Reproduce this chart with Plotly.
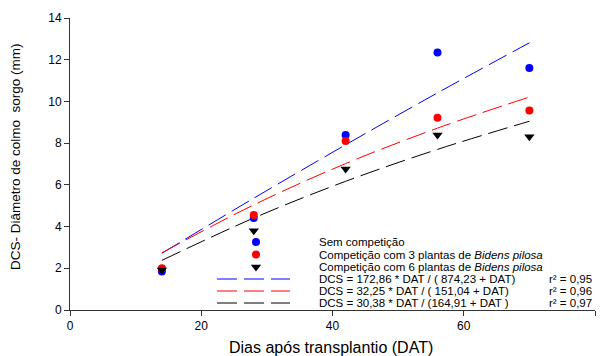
import plotly.graph_objects as go

# ---- data ----
dat = [14, 28, 42, 56, 70]
sem_comp = [1.84, 4.41, 8.39, 12.35, 11.60]
comp3 = [2.00, 4.55, 8.10, 9.22, 9.57]
comp6 = [1.92, 3.80, 6.76, 8.39, 8.31]

# fitted curves (values of the shown equations at each DAT)
fit_sem = [2.72, 5.36, 7.92, 10.41, 12.81]
fit_c3 = [2.74, 5.04, 7.02, 8.72, 10.21]
fit_c6 = [2.38, 4.41, 6.17, 7.70, 9.05]

series_names = [
    "Sem competição",
    "Competição com 3 plantas de <i>Bidens pilosa</i>",
    "Competição com 6 plantas de <i>Bidens pilosa</i>",
]
equations = [
    "DCS = 172,86 * DAT / ( 874,23 + DAT)",
    "DCS = 32,25 * DAT / ( 151,04 + DAT)",
    "DCS = 30,38 * DAT / (164,91 + DAT )",
]
r2_labels = ["r² = 0,95", "r² = 0,96", "r² = 0,97"]

x_ticks = [0, 20, 40, 60, 80]
y_ticks = [0, 2, 4, 6, 8, 10, 12, 14]

FONT = "Liberation Sans, Arial, sans-serif"
colors = ["#0000ff", "#ff0000", "#000000"]
symbols = ["circle", "circle", "triangle-down"]
msize = [8, 8, 9]
dash = "20px,7px"

fig = go.Figure()

for fit, c in zip([fit_sem, fit_c3, fit_c6], colors):
    fig.add_trace(go.Scatter(x=dat, y=fit, mode="lines",
                             line=dict(color=c, width=1, dash=dash, shape="spline"),
                             showlegend=False, hoverinfo="skip"))

for ys, c, s, ms in zip([sem_comp, comp3, comp6], colors, symbols, msize):
    fig.add_trace(go.Scatter(x=dat, y=ys, mode="markers",
                             marker=dict(color=c, symbol=s, size=ms, line=dict(width=0)),
                             showlegend=False))

# ---- manual legend on an overlay axis measured in pixels ----
row_y = [242, 254.5, 267, 279, 291, 303]
text_x = 317
for i in range(3):
    fig.add_trace(go.Scatter(x=[256], y=[row_y[i]], mode="markers", xaxis="x2", yaxis="y2",
                             marker=dict(color=colors[i], symbol=symbols[i], size=msize[i],
                                         line=dict(width=0)),
                             showlegend=False, hoverinfo="skip"))
    fig.add_trace(go.Scatter(x=[217, 290], y=[row_y[3 + i], row_y[3 + i]], mode="lines",
                             xaxis="x2", yaxis="y2",
                             line=dict(color=colors[i], width=1, dash=dash),
                             showlegend=False, hoverinfo="skip"))

annotations = []
for i, t in enumerate(series_names + equations):
    annotations.append(dict(x=text_x, y=row_y[i], xref="x2", yref="y2", text=t,
                            showarrow=False, xanchor="left", yanchor="middle",
                            font=dict(family=FONT, size=11.5, color="black")))
for i, t in enumerate(r2_labels):
    annotations.append(dict(x=547, y=row_y[3 + i], xref="x2", yref="y2", text=t,
                            showarrow=False, xanchor="left", yanchor="middle",
                            font=dict(family=FONT, size=11.5, color="black")))

annotations.append(dict(x=0.498, y=-0.127, xref="paper", yref="paper",
                        text="Dias após transplantio (DAT)", showarrow=False,
                        xanchor="center", yanchor="middle",
                        font=dict(family=FONT, size=16, color="black")))
annotations.append(dict(x=-0.105, y=0.527, xref="paper", yref="paper",
                        text="DCS- Diâmetro de colmo  sorgo (mm)", showarrow=False,
                        textangle=-90, xanchor="center", yanchor="middle",
                        font=dict(family=FONT, size=13.5, color="black")))

axis_common = dict(showgrid=False, zeroline=False, showline=True, linecolor="#333",
                   linewidth=1, ticks="outside", ticklen=5, tickcolor="#333",
                   tickfont=dict(family=FONT, size=12, color="black"))

fig.update_layout(
    width=601, height=356,
    margin=dict(l=70, r=6, t=18, b=46),
    paper_bgcolor="white", plot_bgcolor="white",
    xaxis=dict(range=[0, 80], tickvals=x_ticks, **axis_common),
    yaxis=dict(range=[0, 14], tickvals=y_ticks, **axis_common),
    xaxis2=dict(range=[70, 595], overlaying="x", visible=False),
    yaxis2=dict(range=[310, 18], overlaying="y", visible=False),
    annotations=annotations,
    showlegend=False,
)

fig.write_html("out.html")
